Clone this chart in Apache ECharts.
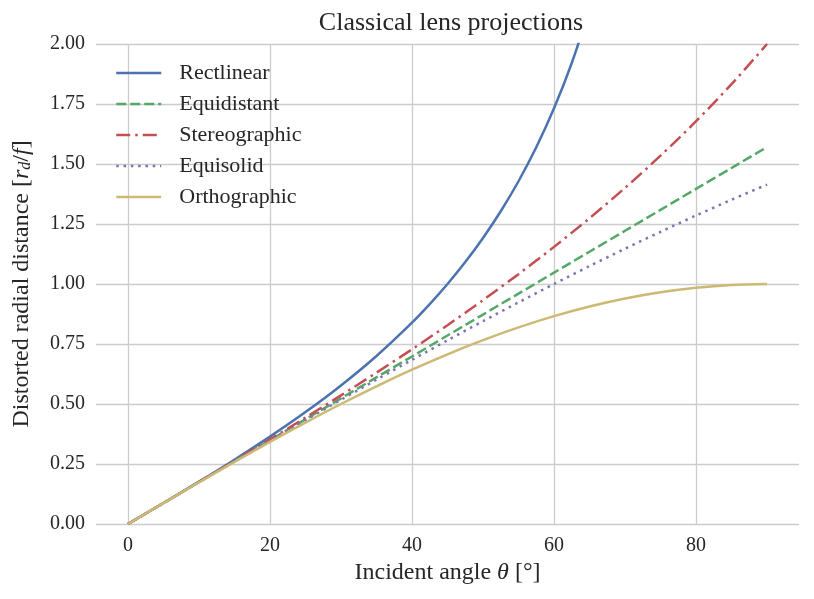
<!DOCTYPE html>
<html>
<head>
<meta charset="utf-8">
<script src="https://cdn.jsdelivr.net/npm/echarts@6/dist/echarts.min.js"></script>
<style>html,body{margin:0;padding:0;background:#fff}#c{width:814px;height:599px}</style>
</head>
<body>
<div id="c"></div>
<script>
// Incident angle (degrees)
var angles = [0,5,10,15,20,25,30,35,40,45,50,55,60,65,70,75,80,85,90];
var rectAngles = [0,5,10,15,20,25,30,35,40,42.5,45,47.5,50,52.5,55,57.5,60,62.5,65];
var rectilinear = [0,0.0875,0.1763,0.2679,0.3640,0.4663,0.5774,0.7002,0.8391,0.9163,1.0,1.0913,1.1918,1.3032,1.4281,1.5697,1.7321,1.9210,2.1445];
var equidistant = [0,0.0873,0.1745,0.2618,0.3491,0.4363,0.5236,0.6109,0.6981,0.7854,0.8727,0.9599,1.0472,1.1345,1.2217,1.3090,1.3963,1.4835,1.5708];
var stereographic = [0,0.0873,0.1750,0.2633,0.3527,0.4434,0.5359,0.6306,0.7279,0.8284,0.9326,1.0411,1.1547,1.2741,1.4004,1.5347,1.6782,1.8327,2.0];
var equisolid = [0,0.0872,0.1743,0.2611,0.3473,0.4329,0.5176,0.6014,0.6840,0.7654,0.8452,0.9235,1.0,1.0746,1.1472,1.2175,1.2856,1.3512,1.4142];
var orthographic = [0,0.0872,0.1736,0.2588,0.3420,0.4226,0.5,0.5736,0.6428,0.7071,0.7660,0.8192,0.8660,0.9063,0.9397,0.9659,0.9848,0.9962,1.0];
var seriesNames = ['Rectlinear','Equidistant','Stereographic','Equisolid','Orthographic'];
var xTicks = [0,20,40,60,80];

function pairs(xs, ys){ return xs.map(function(x,i){ return [x, ys[i]]; }); }

var FONT = '"Liberation Serif", "DejaVu Serif", serif';
var TXT = '#262626';
var chart = echarts.init(document.getElementById('c'), null, {renderer:'canvas'});

function mk(name, xs, ys, color, type){
  return {
    name: name, type: 'line', data: pairs(xs, ys),
    showSymbol: false, symbol: 'none', smooth: 0.3, clip: true,
    lineStyle: {color: color, width: 2.5, type: type, cap: 'butt'},
    itemStyle: {color: color},
    emphasis: {disabled: true}, animation: false
  };
}

chart.setOption({
  animation: false,
  backgroundColor: '#ffffff',
  textStyle: {fontFamily: FONT, color: TXT},
  title: {
    text: 'Classical lens projections',
    left: 446, top: 5, textAlign: 'center',
    textStyle: {fontFamily: FONT, fontSize: 26, fontWeight: 'normal', color: TXT}
  },
  grid: {left: 96, right: 15, top: 44, bottom: 75, containLabel: false},
  legend: {
    data: seriesNames,
    orient: 'vertical', left: 110, top: 57, padding: 5,
    itemWidth: 45, itemHeight: 20, itemGap: 9,
    selectedMode: false,
    itemStyle: {opacity: 0},
    lineStyle: {width: 2.5},
    textStyle: {fontFamily: FONT, fontSize: 22, lineHeight: 20, color: TXT, padding: [0,0,0,13]}
  },
  xAxis: {
    type: 'value', min: -4.5, max: 94.5,
    axisLine: {show: false}, axisTick: {show: false},
    splitLine: {show: true, showMinLine: false, showMaxLine: false, lineStyle: {color: '#cccccc', width: 1.3}},
    axisLabel: {
      fontFamily: FONT, fontSize: 20, color: TXT, margin: 12,
      showMinLabel: false, showMaxLabel: false,
      formatter: function(v){ return xTicks.indexOf(v) >= 0 ? String(v) : ''; }
    },
    name: 'Incident angle {i|θ} [°]', nameLocation: 'middle', nameGap: 37,
    nameTextStyle: {fontFamily: FONT, fontSize: 24, color: TXT,
      rich: {i: {fontFamily: FONT, fontSize: 24, fontStyle: 'italic', color: TXT}}}
  },
  yAxis: {
    type: 'value', min: 0, max: 2, interval: 0.25,
    axisLine: {show: false}, axisTick: {show: false},
    splitLine: {show: true, lineStyle: {color: '#cccccc', width: 1.3}},
    axisLabel: {fontFamily: FONT, fontSize: 20, color: TXT, margin: 11,
      formatter: function(v){ return v.toFixed(2); }},
    name: 'Distorted radial distance [{i|r}{s|d}{n|/}{i|f}]',
    nameLocation: 'middle', nameGap: 62, nameRotate: 90,
    nameTextStyle: {fontFamily: FONT, fontSize: 24, color: TXT,
      rich: {
        i: {fontFamily: FONT, fontSize: 24, fontStyle: 'italic', color: TXT},
        s: {fontFamily: FONT, fontSize: 16, fontStyle: 'italic', color: TXT, padding: [9,0,0,0]},
        n: {fontFamily: FONT, fontSize: 24, color: TXT}
      }}
  },
  series: [
    mk(seriesNames[0], rectAngles, rectilinear, '#4C72B0', 'solid'),
    mk(seriesNames[1], angles, equidistant, '#55A868', [10,4]),
    mk(seriesNames[2], angles, stereographic, '#C44E52', [14,5,2.5,5]),
    mk(seriesNames[3], angles, equisolid, '#8172B2', [2.5,4.8]),
    mk(seriesNames[4], angles, orthographic, '#CCB974', 'solid')
  ]
});
</script>
</body>
</html>
